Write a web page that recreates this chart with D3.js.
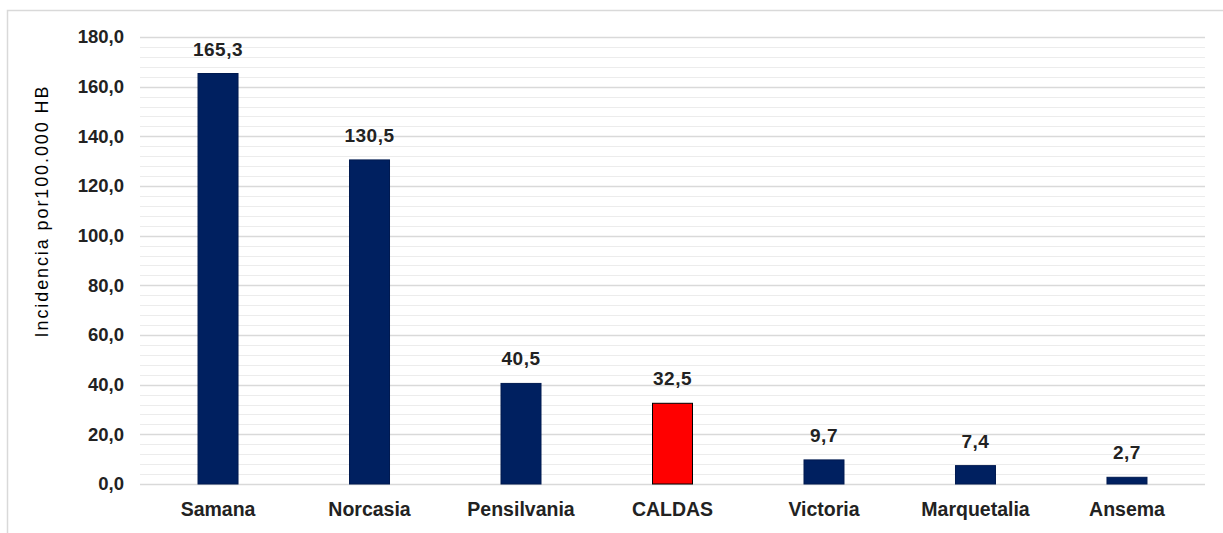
<!DOCTYPE html>
<html><head><meta charset="utf-8">
<script src="https://cdn.jsdelivr.net/npm/d3@7"></script>
<style>body{margin:0;background:#fff;} svg{display:block;}</style>
</head><body>
<script>
const categories = ["Samana","Norcasia","Pensilvania","CALDAS","Victoria","Marquetalia","Ansema"];
const values = [165.3,130.5,40.5,32.5,9.7,7.4,2.7];
const highlight = ["CALDAS"];
const yTicks = [0,20,40,60,80,100,120,140,160,180];
const yLabel = "Incidencia por100.000 HB";

const W=1223,H=533;
const m={left:140,right:18,top:37,bottom:49};
const svg=d3.select("body").append("svg").attr("width",W).attr("height",H);
svg.append("rect").attr("x",7.5).attr("y",10.5).attr("width",W).attr("height",H).attr("fill","#fff").attr("stroke","#d9d9d9").attr("stroke-width",1.5);

const x=d3.scaleBand().domain(categories).range([m.left,W-m.right]).paddingInner(0.736).paddingOuter(0.383);
const y=d3.scaleLinear().domain([0,180]).range([H-m.bottom,m.top]);
const fmt=v=>d3.format(".1f")(v).replace(".",",");
const font="Liberation Sans, Arial, sans-serif";

const minor=d3.range(0,181,4).filter(v=>v%20!==0);
svg.append("g").selectAll("line").data(minor).join("line")
 .attr("x1",m.left).attr("x2",W-m.right).attr("y1",d=>Math.round(y(d))+0.5).attr("y2",d=>Math.round(y(d))+0.5)
 .attr("stroke","#ececec").attr("stroke-width",1);
svg.append("g").selectAll("line").data(yTicks).join("line")
 .attr("x1",m.left).attr("x2",W-m.right).attr("y1",d=>Math.round(y(d))+0.5).attr("y2",d=>Math.round(y(d))+0.5)
 .attr("stroke","#d9d9d9").attr("stroke-width",1.5);

const yAxis=svg.append("g").attr("transform",`translate(${m.left-16},0)`)
 .call(d3.axisLeft(y).tickValues(yTicks).tickFormat(fmt).tickSize(0).tickPadding(0));
yAxis.select(".domain").remove();
yAxis.selectAll("text").attr("font-family",font).attr("font-weight","bold").attr("font-size",18.5).attr("fill","#222");

const xAxis=svg.append("g").attr("transform",`translate(0,${H-m.bottom})`)
 .call(d3.axisBottom(x).tickSize(0).tickPadding(18));
xAxis.select(".domain").remove();
xAxis.selectAll("text").attr("font-family",font).attr("font-weight","bold").attr("font-size",19.5).attr("fill","#222");

svg.append("g").selectAll("rect").data(categories).join("rect")
 .attr("x",d=>x(d)).attr("width",x.bandwidth())
 .attr("y",(d,i)=>y(values[i])).attr("height",(d,i)=>y(0)-y(values[i]))
 .attr("fill",d=>highlight.includes(d)?"#ff0000":"#002060")
 .attr("stroke",d=>highlight.includes(d)?"#000":"#001a50").attr("stroke-width",1);

svg.append("g").selectAll("text").data(categories).join("text")
 .attr("x",d=>x(d)+x.bandwidth()/2).attr("y",(d,i)=>y(values[i])-18)
 .attr("text-anchor","middle").attr("font-family",font).attr("font-weight","bold").attr("font-size",19).attr("letter-spacing",0.5).attr("fill","#222")
 .text((d,i)=>fmt(values[i]));

svg.append("text").attr("transform",`translate(48,211) rotate(-90)`)
 .attr("text-anchor","middle").attr("font-family",font).attr("font-size",18).attr("letter-spacing",1.9).attr("fill","#000")
 .text(yLabel);
</script>
</body></html>
